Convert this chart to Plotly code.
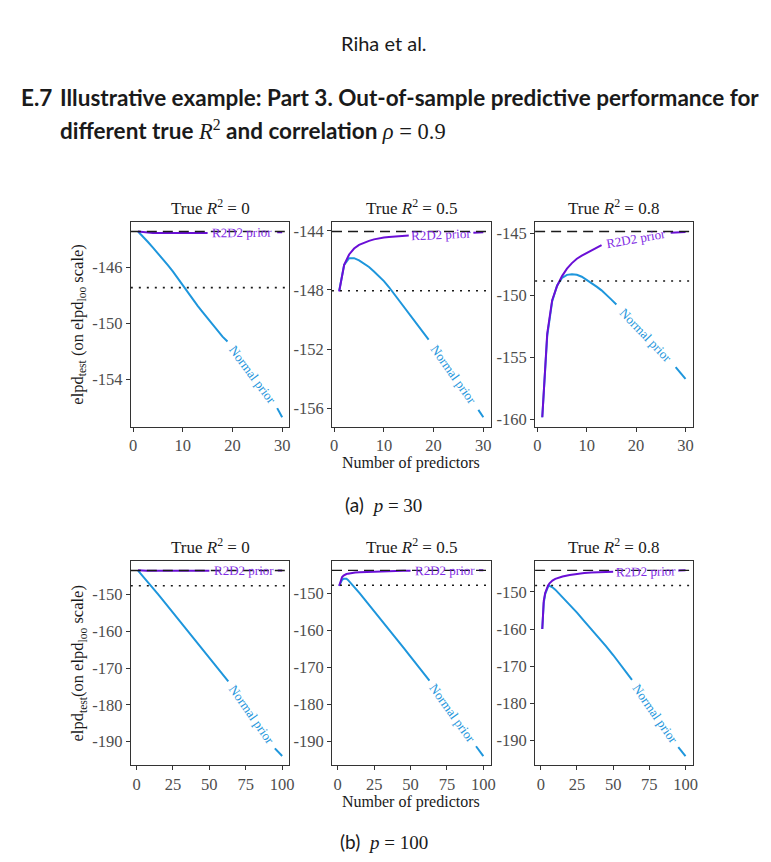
import math
import plotly.graph_objects as go

W, H = 771, 862

# ---------------- data ----------------
x_p30 = list(range(1, 31))
x_p100 = [1, 2, 3, 4, 5, 6, 7, 8, 10, 12, 15, 20, 25, 30, 35, 40, 45, 50, 55, 60,
          63, 65, 70, 75, 80, 85, 90, 95, 97, 100]

panel_titles = ["True <i>R</i><sup>2</sup> = 0", "True <i>R</i><sup>2</sup> = 0.5",
                "True <i>R</i><sup>2</sup> = 0.8"]

# p = 30
normal_p30_r0 = [-143.45, -143.8, -144.2, -144.6, -145.0, -145.45, -145.85, -146.3, -146.8, -147.3,
                 -147.8, -148.3, -148.75, -149.2, -149.65, -150.1, -150.55, -150.95, -151.3, -151.65,
                 -152.05, -152.5, -152.95, -153.4, -153.85, -154.3, -154.8, -155.4, -156.05, -156.7]
r2d2_p30_r0 = [-143.45, -143.5, -143.55, -143.55, -143.55, -143.55, -143.55, -143.55, -143.55, -143.55,
               -143.55, -143.55, -143.55, -143.55, -143.55, -143.55, -143.55, -143.55, -143.55, -143.55,
               -143.55, -143.55, -143.55, -143.55, -143.55, -143.55, -143.55, -143.52, -143.5, -143.5]
normal_p30_r5 = [-148.05, -146.3, -145.85, -145.85, -146.0, -146.2, -146.45, -146.75, -147.05, -147.4,
                 -147.8, -148.25, -148.7, -149.15, -149.6, -150.05, -150.5, -150.95, -151.35, -151.83,
                 -152.3, -152.78, -153.25, -153.73, -154.2, -154.68, -155.15, -155.63, -156.1, -156.6]
r2d2_p30_r5 = [-148.1, -146.3, -145.6, -145.2, -144.95, -144.8, -144.68, -144.58, -144.5, -144.46,
               -144.42, -144.39, -144.36, -144.34, -144.32, -144.3, -144.28, -144.26, -144.24, -144.22,
               -144.2, -144.19, -144.18, -144.17, -144.16, -144.15, -144.14, -144.13, -144.12, -144.1]
normal_p30_r8 = [-159.85, -153.3, -150.5, -149.2, -148.6, -148.35, -148.3, -148.35, -148.5, -148.75,
                 -149.05, -149.3, -149.6, -149.95, -150.35, -150.75, -151.15, -151.6, -152.0, -152.45,
                 -152.85, -153.3, -153.7, -154.15, -154.55, -155.0, -155.4, -155.8, -156.25, -156.75]
r2d2_p30_r8 = [-159.85, -153.1, -150.4, -149.25, -148.45, -147.85, -147.4, -147.05, -146.8, -146.6,
               -146.35, -146.15, -145.95, -145.8, -145.68, -145.56, -145.46, -145.38, -145.3, -145.24,
               -145.18, -145.12, -145.07, -145.03, -145.0, -144.97, -144.95, -144.93, -144.9, -144.88]

# p = 100
normal_p100_r0 = [-143.5, -143.95, -144.4, -144.85, -145.3, -145.75, -146.2, -146.65, -147.6, -148.55,
                  -150.0, -152.45, -154.9, -157.35, -159.8, -162.25, -164.7, -167.2, -169.7, -172.2,
                  -173.6, -174.7, -177.5, -180.3, -183.2, -186.1, -189.0, -191.8, -192.7, -193.9]
r2d2_p100_r0 = [-143.4, -143.45, -143.5, -143.5, -143.5, -143.5, -143.5, -143.5, -143.5, -143.5,
                -143.5, -143.5, -143.5, -143.5, -143.5, -143.5, -143.5, -143.5, -143.5, -143.5,
                -143.5, -143.5, -143.5, -143.5, -143.5, -143.5, -143.5, -143.5, -143.45, -143.45]
normal_p100_r5 = [-147.9, -146.9, -146.3, -146.0, -145.9, -146.0, -146.3, -146.7, -147.6, -148.5,
                  -149.9, -152.3, -154.8, -157.2, -159.6, -162.1, -164.6, -167.1, -169.6, -172.1,
                  -173.6, -174.6, -177.3, -180.0, -182.8, -185.6, -188.5, -191.4, -192.5, -194.05]
r2d2_p100_r5 = [-147.9, -146.3, -145.5, -145.1, -144.85, -144.7, -144.6, -144.5, -144.4, -144.3,
                -144.2, -144.1, -144.03, -143.98, -143.93, -143.88, -143.84, -143.8, -143.78, -143.76,
                -143.75, -143.75, -143.74, -143.73, -143.72, -143.72, -143.71, -143.71, -143.7, -143.7]
normal_p100_r8 = [-160.0, -153.0, -150.6, -149.3, -148.6, -148.4, -148.5, -148.75, -149.4, -150.2,
                  -151.4, -153.5, -155.6, -157.9, -160.1, -162.2, -164.6, -167.0, -169.6, -172.3,
                  -173.7, -174.8, -177.5, -180.3, -183.1, -186.0, -188.9, -191.8, -192.8, -194.2]
r2d2_p100_r8 = [-160.0, -152.5, -150.3, -149.1, -148.3, -147.7, -147.25, -146.95, -146.5, -146.2,
                -145.85, -145.45, -145.15, -144.95, -144.8, -144.7, -144.6, -144.55, -144.5, -144.45,
                -144.42, -144.4, -144.36, -144.33, -144.3, -144.27, -144.25, -144.22, -144.21, -144.2]

# reference lines: dashed (best model) and dotted (one SE) per panel
dashed_vals = [-143.45, -144.05, -144.85, -143.45, -143.7, -144.2]
dotted_vals = [-147.45, -148.05, -148.85, -147.6, -147.75, -148.3]

# label gaps along the lines (x start, x end)
normal_gaps = [(19, 29), (19, 29), (16, 28), (63, 95), (63, 95), (63, 95)]
r2d2_gaps = [(15, 29), (15, 28), (13, 27), (50, 97), (50, 97), (50, 95)]

xticks_p30 = [0, 10, 20, 30]
xticks_p100 = [0, 25, 50, 75, 100]
yticks = [[-146, -150, -154], [-144, -148, -152, -156], [-145, -150, -155, -160],
          [-150, -160, -170, -180, -190], [-150, -160, -170, -180, -190],
          [-150, -160, -170, -180, -190]]

panels = [
    (x_p30, normal_p30_r0, r2d2_p30_r0),
    (x_p30, normal_p30_r5, r2d2_p30_r5),
    (x_p30, normal_p30_r8, r2d2_p30_r8),
    (x_p100, normal_p100_r0, r2d2_p100_r0),
    (x_p100, normal_p100_r5, r2d2_p100_r5),
    (x_p100, normal_p100_r8, r2d2_p100_r8),
]

# ---------------- style ----------------
BLUE = "#1E96DC"
PURPLE = "#6A0FD6"
SERIF = "Liberation Serif, Times New Roman, serif"
SANS = "Lato, Open Sans, sans-serif"
cols_px = [(130, 290), (333, 493), (538, 697)]
rows_px = [(222, 427), (562, 767)]

fig = go.Figure()
annotations = []
shapes = []


def seg(xs, ys, gap):
    ox, oy = [], []
    for a, b in zip(xs, ys):
        if a <= gap[0]:
            ox.append(a); oy.append(b)
    ox.append(None); oy.append(None)
    for a, b in zip(xs, ys):
        if a >= gap[1]:
            ox.append(a); oy.append(b)
    return ox, oy


def expand(lo, hi, f=0.05):
    d = hi - lo
    return [lo - f * d, hi + f * d]


layout_axes = {}
for i, (xs, nrm, r2) in enumerate(panels):
    r, c = divmod(i, 3)
    k = i + 1
    xa = "x" if k == 1 else f"x{k}"
    ya = "y" if k == 1 else f"y{k}"
    xname = "xaxis" if k == 1 else f"xaxis{k}"
    yname = "yaxis" if k == 1 else f"yaxis{k}"
    xr = expand(min(xs), max(xs))
    allv = nrm + r2 + [dashed_vals[i], dotted_vals[i]]
    yr = expand(min(allv), max(allv))
    (px0, px1), (py0, py1) = cols_px[c], rows_px[r]
    wpx, hpx = px1 - px0, py1 - py0

    gx, gy = seg(xs, nrm, normal_gaps[i])
    fig.add_trace(go.Scatter(x=gx, y=gy, mode="lines", line=dict(color=BLUE, width=2),
                             xaxis=xa, yaxis=ya, showlegend=False, hoverinfo="skip"))
    gx, gy = seg(xs, r2, r2d2_gaps[i])
    fig.add_trace(go.Scatter(x=gx, y=gy, mode="lines", line=dict(color=PURPLE, width=2),
                             xaxis=xa, yaxis=ya, showlegend=False, hoverinfo="skip"))

    shapes.append(dict(type="line", xref=f"{xa} domain", yref=ya, x0=0, x1=1,
                       y0=dashed_vals[i], y1=dashed_vals[i],
                       line=dict(color="#1a1a1a", width=1.3, dash="10px,6px")))
    shapes.append(dict(type="line", xref=f"{xa} domain", yref=ya, x0=0, x1=1,
                       y0=dotted_vals[i], y1=dotted_vals[i],
                       line=dict(color="#1a1a1a", width=1.6, dash="2px,6px")))

    # path labels
    for series, gap, text, col in [(nrm, normal_gaps[i], "Normal prior", BLUE),
                                   (r2, r2d2_gaps[i], "R2D2 prior", "#7F2BE4")]:
        ia = xs.index(gap[0]); ib = xs.index(gap[1])
        y_a, y_b = series[ia], series[ib]
        dxp = (gap[1] - gap[0]) / (xr[1] - xr[0]) * wpx
        dyp = (y_b - y_a) / (yr[1] - yr[0]) * hpx
        ang = -math.degrees(math.atan2(dyp, dxp))
        annotations.append(dict(x=(gap[0] + gap[1]) / 2, y=(y_a + y_b) / 2, xref=xa, yref=ya,
                                text=text, showarrow=False, textangle=ang,
                                font=dict(family=SERIF, size=13, color=col),
                                xanchor="center", yanchor="middle"))

    xt = xticks_p30 if r == 0 else xticks_p100
    layout_axes[xname] = dict(domain=[px0 / W, px1 / W], range=xr, anchor=ya,
                              tickvals=xt, ticktext=[str(v) for v in xt],
                              ticks="outside", ticklen=4, tickcolor="#333", tickwidth=1,
                              showline=True, linecolor="#333", linewidth=1, mirror=True,
                              showgrid=False, zeroline=False,
                              tickfont=dict(family=SERIF, size=16.5, color="#4d4d4d"))
    layout_axes[yname] = dict(domain=[1 - py1 / H, 1 - py0 / H], range=yr, anchor=xa,
                              tickvals=yticks[i], ticktext=[str(v) for v in yticks[i]],
                              ticks="outside", ticklen=4, tickcolor="#333", tickwidth=1,
                              showline=True, linecolor="#333", linewidth=1, mirror=True,
                              showgrid=False, zeroline=False,
                              tickfont=dict(family=SERIF, size=16.5, color="#4d4d4d"))

    # panel title
    annotations.append(dict(x=(px0 + px1) / 2 / W, y=1 - (py0 - 15) / H, xref="paper", yref="paper",
                            text=panel_titles[c], showarrow=False,
                            font=dict(family=SERIF, size=17, color="#1a1a1a"),
                            xanchor="center", yanchor="middle"))

# axis titles
ytitles = ["elpd<sub>test</sub> (on elpd<sub>loo</sub> scale)",
           "elpd<sub>test</sub>(on elpd<sub>loo</sub> scale)"]
for r in range(2):
    py0, py1 = rows_px[r]
    annotations.append(dict(x=77 / W, y=1 - (py0 + py1) / 2 / H, xref="paper", yref="paper",
                            text=ytitles[r], showarrow=False, textangle=-90,
                            font=dict(family=SERIF, size=16.5, color="#1a1a1a"),
                            xanchor="center", yanchor="middle"))
    annotations.append(dict(x=413 / W, y=1 - (py1 + 37) / H, xref="paper", yref="paper",
                            text="Number of predictors", showarrow=False,
                            font=dict(family=SERIF, size=16, color="#1a1a1a"),
                            xanchor="center", yanchor="middle"))

# page texts
annotations.append(dict(x=386 / W, y=1 - 42 / H, xref="paper", yref="paper", text="Riha et al.",
                        showarrow=False, font=dict(family=SANS, size=20, color="#1a1a1a"),
                        xanchor="center", yanchor="middle"))
annotations.append(dict(x=17 / W, y=1 - 97 / H, xref="paper", yref="paper", text="<b>E.7</b>",
                        showarrow=False, font=dict(family=SANS, size=22.5, color="#1a1a1a"),
                        xanchor="left", yanchor="middle"))
annotations.append(dict(x=57 / W, y=1 - 97 / H, xref="paper", yref="paper",
                        text="<b>Illustrative example: Part 3. Out-of-sample predictive performance for</b>",
                        showarrow=False, font=dict(family=SANS, size=22.5, color="#1a1a1a"),
                        xanchor="left", yanchor="middle"))
annotations.append(dict(x=57 / W, y=1 - 129 / H, xref="paper", yref="paper",
                        text="<b>different true </b><span style=\"font-family:'Liberation Serif'\"><i>R</i><sup>2</sup></span>"
                             "<b> and correlation </b><span style=\"font-family:'Liberation Serif'\"><i>ρ</i> = 0.9</span>",
                        showarrow=False, font=dict(family=SANS, size=22.5, color="#1a1a1a"),
                        xanchor="left", yanchor="middle"))
annotations.append(dict(x=385 / W, y=1 - 505 / H, xref="paper", yref="paper",
                        text="(a)  <span style=\"font-family:'Liberation Serif'\"><i>p</i> = 30</span>",
                        showarrow=False, font=dict(family=SANS, size=19, color="#1a1a1a"),
                        xanchor="center", yanchor="middle"))
annotations.append(dict(x=385 / W, y=1 - 843 / H, xref="paper", yref="paper",
                        text="(b)  <span style=\"font-family:'Liberation Serif'\"><i>p</i> = 100</span>",
                        showarrow=False, font=dict(family=SANS, size=19, color="#1a1a1a"),
                        xanchor="center", yanchor="middle"))

fig.update_layout(width=W, height=H, margin=dict(l=0, r=0, t=0, b=0),
                  plot_bgcolor="white", paper_bgcolor="white",
                  annotations=annotations, shapes=shapes, **layout_axes)
fig.write_html("out.html")
